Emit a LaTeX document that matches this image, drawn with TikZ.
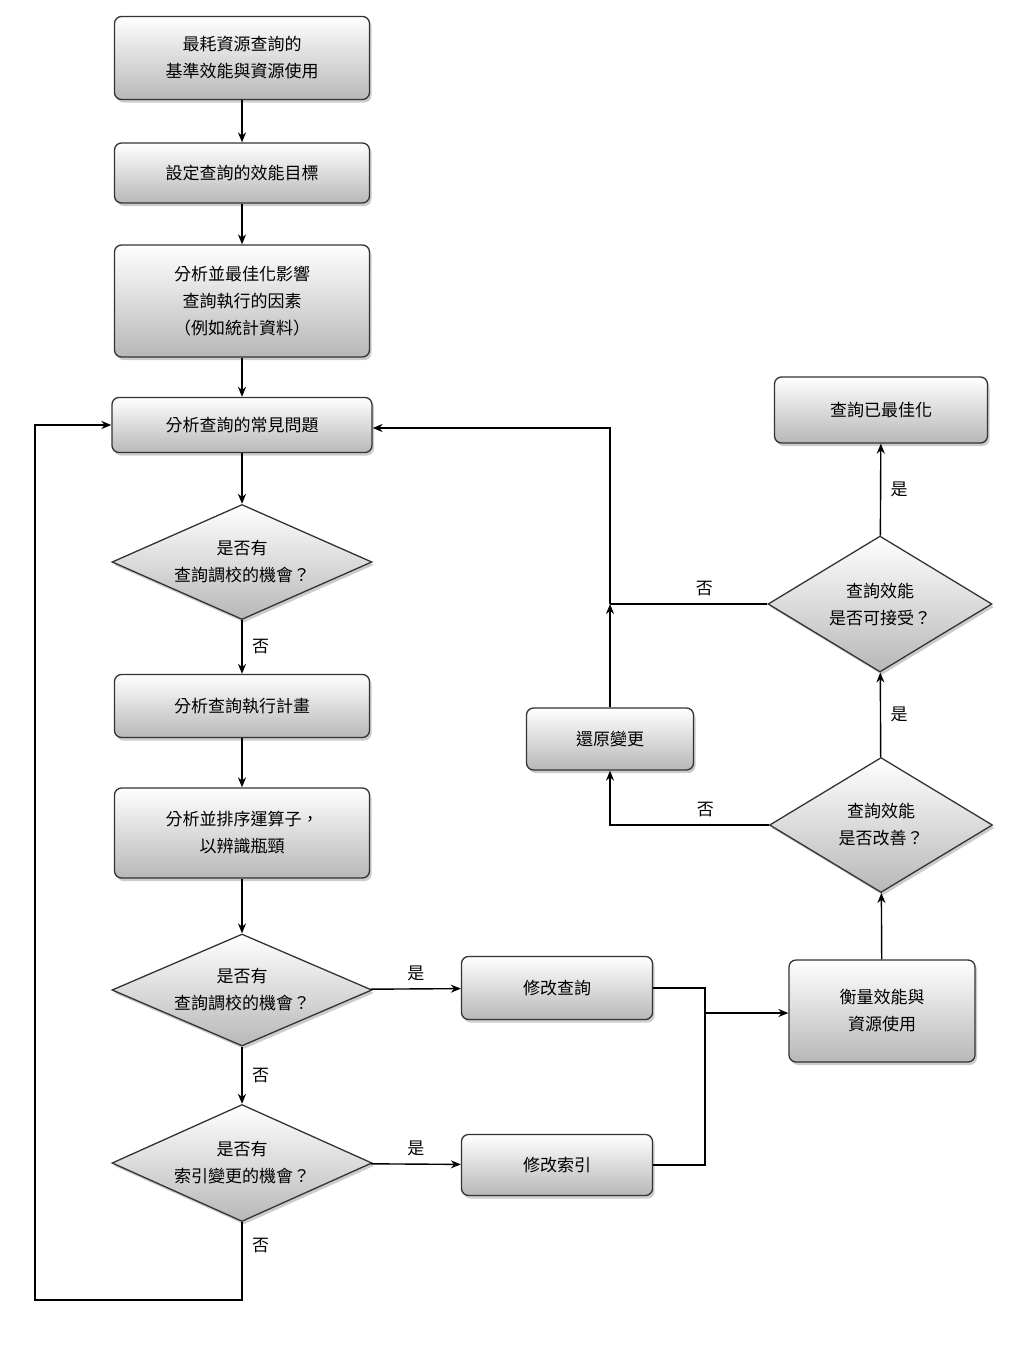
\documentclass[tikz,border=0pt]{standalone}
\usepackage{fontspec}
\setmainfont{Noto Sans CJK TC}
\usetikzlibrary{shapes.geometric,shadows,arrows.meta}
\begin{document}
\begin{tikzpicture}[x=1pt,y=-1pt,
 base/.style={draw=black!80,line width=1.3pt,top color=white,bottom color=black!28,
   drop shadow={shadow xshift=2pt,shadow yshift=-3pt,opacity=.4},
   font=\fontsize{17}{27}\selectfont,align=center,inner sep=0pt},
 box/.style={base,rounded corners=7pt},
 dia/.style={base,diamond,aspect=2.3},
 arr/.style={-{Stealth[length=10pt,width=8pt]},line width=1.4pt},
 ln/.style={line width=1.4pt},
 lab/.style={font=\fontsize{17}{20}\selectfont}]
\useasboundingbox (0,0) rectangle (1024,1365);
\node[box,minimum width=255pt,minimum height=83pt] (n1) at (242,58) {最耗資源查詢的\\基準效能與資源使用};
\node[box,minimum width=255pt,minimum height=60pt] (n2) at (242,173) {設定查詢的效能目標};
\node[box,minimum width=255pt,minimum height=112pt] (n3) at (242,301) {分析並最佳化影響\\查詢執行的因素\\（例如統計資料）};
\node[box,minimum width=260pt,minimum height=55pt] (n4) at (242,425) {分析查詢的常見問題};
\node[dia,minimum width=260pt,minimum height=115pt] (d1) at (242,562) {是否有\\查詢調校的機會？};
\node[box,minimum width=255pt,minimum height=63pt] (n5) at (242,706) {分析查詢執行計畫};
\node[box,minimum width=255pt,minimum height=90pt] (n6) at (242,833) {分析並排序運算子，\\以辨識瓶頸};
\node[dia,minimum width=260pt,minimum height=112pt] (d2) at (242,990) {是否有\\查詢調校的機會？};
\node[dia,minimum width=260pt,minimum height=117pt] (d3) at (242,1163) {是否有\\索引變更的機會？};
\node[box,minimum width=191pt,minimum height=63pt] (m1) at (557,988) {修改查詢};
\node[box,minimum width=191pt,minimum height=61pt] (m2) at (557,1165) {修改索引};
\node[box,minimum width=186pt,minimum height=102pt] (m3) at (882,1011) {衡量效能與\\資源使用};
\node[dia,minimum width=223pt,minimum height=135pt] (d4) at (881,825) {查詢效能\\是否改善？};
\node[box,minimum width=167pt,minimum height=62pt] (r) at (610,739) {還原變更};
\node[dia,minimum width=224pt,minimum height=136pt] (d5) at (880,604) {查詢效能\\是否可接受？};
\node[box,minimum width=213pt,minimum height=66pt] (f) at (881,410) {查詢已最佳化};
\coordinate (j1) at (705,1013);
\coordinate (j2) at (610,604);
\draw[arr] (n1) -- (n2);
\draw[arr] (n2) -- (n3);
\draw[arr] (n3) -- (n4);
\draw[arr] (n4) -- (d1);
\draw[arr] (d1) -- node[lab,right=6pt]{否} (n5);
\draw[arr] (n5) -- (n6);
\draw[arr] (n6) -- (d2);
\draw[arr] (d2) -- node[lab,above=4pt]{是} (m1);
\draw[arr] (d2) -- node[lab,right=6pt]{否} (d3);
\draw[arr] (d3) -- node[lab,above=4pt]{是} (m2);
\draw[arr] (d3.south) -- node[lab,right=6pt,pos=.3]{否} (242,1300) -- (35,1300) -- (35,425) -- (n4.west);
\draw[ln] (m1.east) -- (705,988) -- (705,1165) -- (m2.east);
\draw[arr] (j1) -- (j1 -| m3.west);
\draw[arr] (m3) -- (d4);
\draw[arr] (d4.west) -- node[lab,above=4pt,pos=.4]{否} (610,825) -- (r.south);
\draw[arr] (d4) -- node[lab,right=6pt]{是} (d5);
\draw[arr] (r.north) -- (j2);
\draw[ln] (d5.west) -- node[lab,above=4pt,pos=.4]{否} (j2);
\draw[arr] (j2) -- (610,428) -- (n4.east |- 0,428);
\draw[arr] (d5) -- node[lab,right=6pt]{是} (f);
\end{tikzpicture}
\end{document}
